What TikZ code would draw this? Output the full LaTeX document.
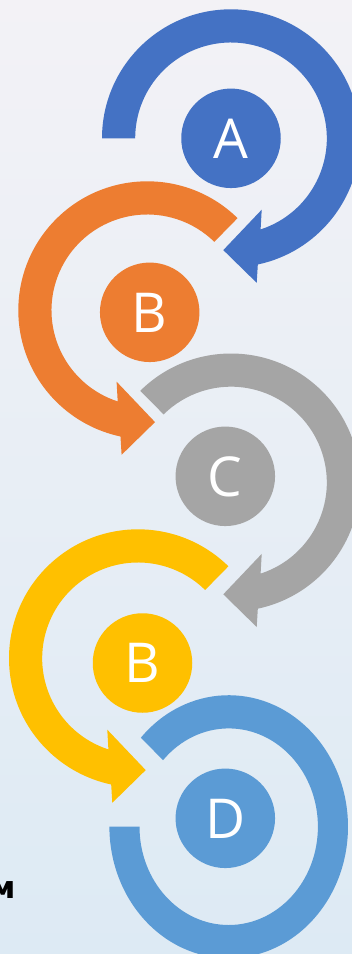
\documentclass[tikz,border=0pt]{standalone}
\usepackage{fontspec}
\setmainfont{Open Sans}
\newfontfamily\cyrfont{DejaVu Sans}
\definecolor{cA}{HTML}{4472C4}
\definecolor{cB}{HTML}{ED7D31}
\definecolor{cC}{HTML}{A5A5A5}
\definecolor{cY}{HTML}{FFC000}
\definecolor{cD}{HTML}{5B9BD5}
\definecolor{bgtop}{HTML}{F3F2F6}
\definecolor{bgbot}{HTML}{DDEAF4}
% clockwise circular arrow: #1 centre coordinate, #2 start angle, #3 colour
\newcommand\cwarrowshape[3]{%
  \fill[#3, shift={(#1)}] (#2:129) arc[start angle=#2, end angle=-78, radius=129]
    -- (25.7,-144.5) -- (-7.7,-111.8) -- (30.7,-71.4)
    -- (-72:95.8) arc[start angle=-72, end angle=#2, radius=95.8] -- cycle;}
% counter-clockwise circular arrow
\newcommand\ccwarrowshape[3]{%
  \fill[#3, shift={(#1)}] (#2:129) arc[start angle=#2, end angle=258, radius=129]
    -- (-25.7,-144.5) -- (7.7,-111.8) -- (-30.7,-71.4)
    -- (252:95.8) arc[start angle=252, end angle=#2, radius=95.8] -- cycle;}
\tikzset{
  disc/.style={circle, minimum size=99.5pt, inner sep=0pt, text=white,
    font=\fontsize{55}{55}\selectfont, text height=39.5pt, text depth=0pt},
}
\begin{document}
\begin{tikzpicture}[x=1pt, y=1pt]
\useasboundingbox (0,0) rectangle (352,-954);
\clip (0,0) rectangle (352,-954);
\shade[top color=bgtop, bottom color=bgbot] (0,0) rectangle (352,-954);
% ring centres
\coordinate (rA) at (231,-138.3);
\coordinate (rB) at (147.3,-310.3);
\coordinate (rC) at (231,-482.5);
\coordinate (rY) at (138,-658.3);
\coordinate (rD) at (228.7,-826.7);
% arrows
\cwarrowshape{rA}{180}{cA}
\ccwarrowshape{rB}{45.6}{cB}
\cwarrowshape{rC}{134.7}{cC}
\ccwarrowshape{rY}{45.5}{cY}
% final ring
\fill[cD, shift={(rD)}] (137.4:119.3 and 131.5)
  arc[start angle=137.4, end angle=-180, x radius=119.3, y radius=131.5]
  -- (-180:89.2 and 98.3)
  arc[start angle=-180, end angle=137.4, x radius=89.2, y radius=98.3] -- cycle;
% discs
\node[disc, fill=cA] (A) at (231,-138.3) {A};
\node[disc, fill=cB] (B) at (149.7,-312.3) {B};
\node[disc, fill=cC] (C) at (225.3,-476.3) {C};
\node[disc, fill=cY] (B2) at (142.5,-663) {B};
\node[disc, fill=cD] (D) at (225.3,-818.3) {D};
% cut-off letter at the left edge
\node[anchor=base east, inner sep=0pt, font=\cyrfont\bfseries\fontsize{31}{31}\selectfont] (m) at (16.5,-898.3) {м};
\end{tikzpicture}
\end{document}
